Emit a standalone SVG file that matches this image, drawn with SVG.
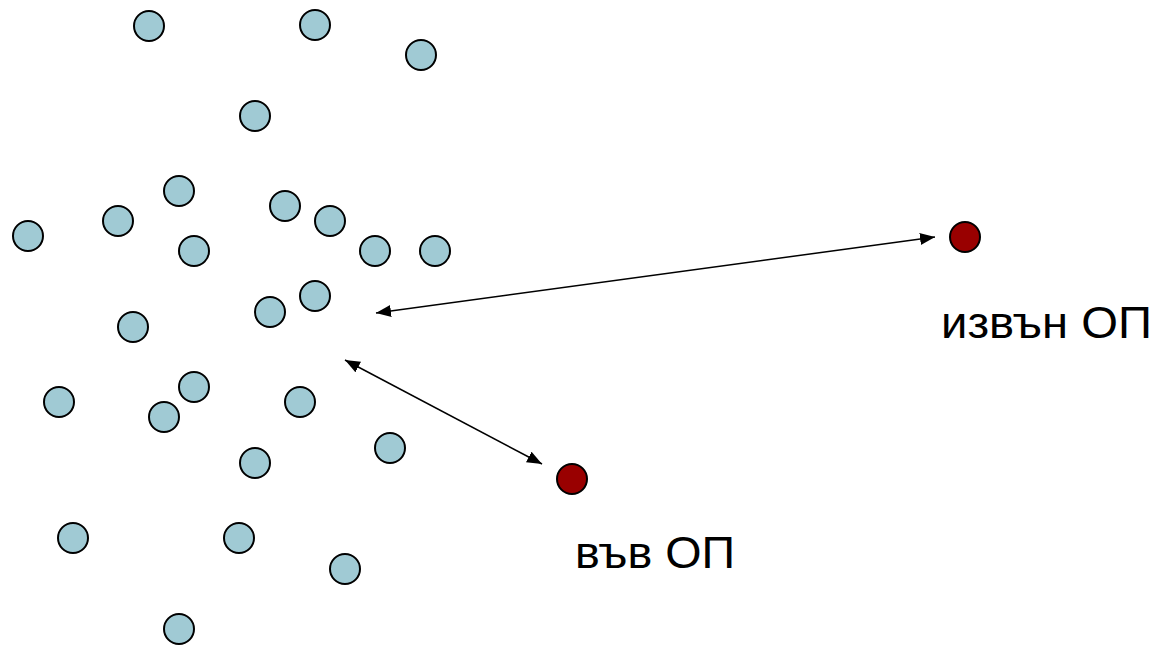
<svg xmlns="http://www.w3.org/2000/svg" width="1160" height="647" viewBox="0 0 1160 647">
  <style>
    .pt { fill: #a0cad4; stroke: #000; stroke-width: 2; }
    .q { fill: #990000; stroke: #000; stroke-width: 2; }
    .link { stroke: #000; stroke-width: 1.5; fill: none; marker-start: url(#head); marker-end: url(#head); }
    .lbl { font-family: "Liberation Sans", Arial, sans-serif; font-size: 44px; fill: #000; }
  </style>
  <defs>
    <marker id="head" viewBox="0 0 15 12" refX="15" refY="6" markerWidth="15" markerHeight="12" markerUnits="userSpaceOnUse" orient="auto-start-reverse">
      <path d="M0,0 L15,6 L0,12 Z" fill="#000"/>
    </marker>
  </defs>
  <rect width="1160" height="647" fill="#fff"/>

  <g id="cluster">
    <circle class="pt" cx="149" cy="26" r="15"/>
    <circle class="pt" cx="315" cy="25" r="15"/>
    <circle class="pt" cx="421" cy="55" r="15"/>
    <circle class="pt" cx="255" cy="116" r="15"/>
    <circle class="pt" cx="179" cy="191" r="15"/>
    <circle class="pt" cx="118" cy="221" r="15"/>
    <circle class="pt" cx="285" cy="206" r="15"/>
    <circle class="pt" cx="330" cy="221" r="15"/>
    <circle class="pt" cx="28" cy="236" r="15"/>
    <circle class="pt" cx="194" cy="251" r="15"/>
    <circle class="pt" cx="375" cy="251" r="15"/>
    <circle class="pt" cx="435" cy="251" r="15"/>
    <circle class="pt" cx="315" cy="296" r="15"/>
    <circle class="pt" cx="270" cy="312" r="15"/>
    <circle class="pt" cx="133" cy="327" r="15"/>
    <circle class="pt" cx="194" cy="387" r="15"/>
    <circle class="pt" cx="59" cy="402" r="15"/>
    <circle class="pt" cx="164" cy="417" r="15"/>
    <circle class="pt" cx="300" cy="402" r="15"/>
    <circle class="pt" cx="390" cy="448" r="15"/>
    <circle class="pt" cx="255" cy="463" r="15"/>
    <circle class="pt" cx="73" cy="538" r="15"/>
    <circle class="pt" cx="239" cy="538" r="15"/>
    <circle class="pt" cx="345" cy="569" r="15"/>
    <circle class="pt" cx="179" cy="629" r="15"/>
  </g>

  <g id="outside">
    <circle class="q" cx="965" cy="237" r="15"/>
    <text class="lbl" x="941" y="338" textLength="211" lengthAdjust="spacingAndGlyphs">извън ОП</text>
  </g>

  <g id="inside">
    <circle class="q" cx="572" cy="479" r="15"/>
    <text class="lbl" x="575" y="568" textLength="160" lengthAdjust="spacingAndGlyphs">във ОП</text>
  </g>

  <g id="connectors">
    <line class="link" x1="376" y1="313" x2="935" y2="237"/>
    <line class="link" x1="345" y1="360" x2="542" y2="464"/>
  </g>
</svg>
